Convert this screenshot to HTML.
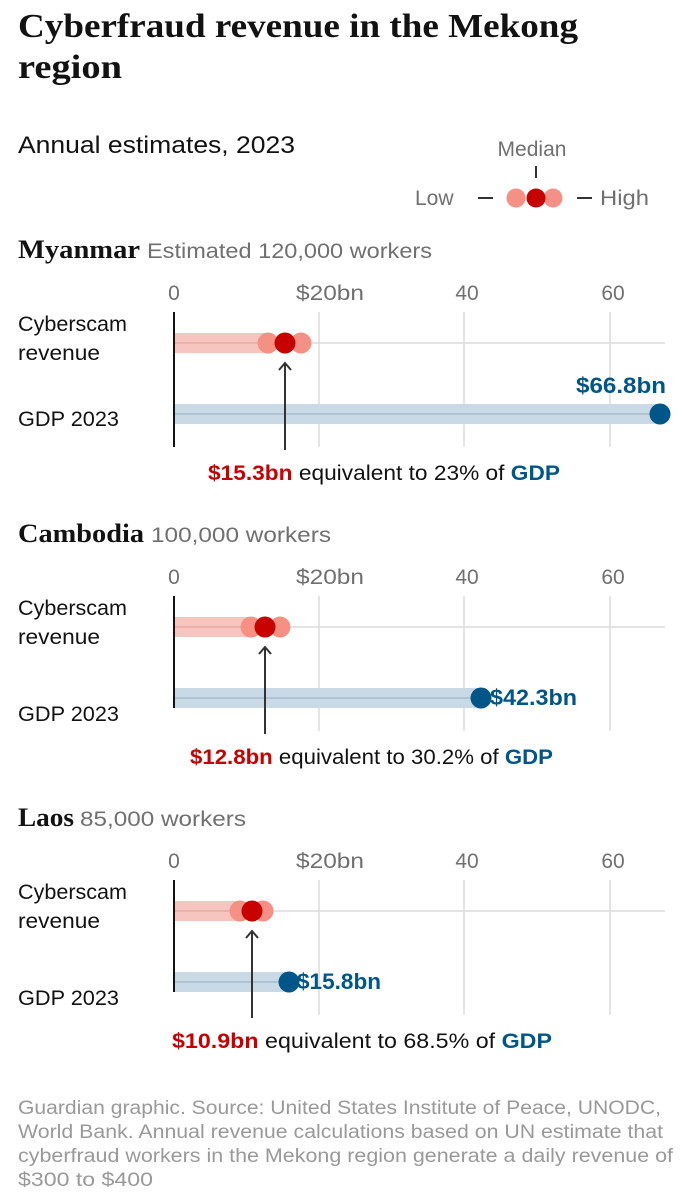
<!DOCTYPE html>
<html><head><meta charset="utf-8"><style>
html,body{margin:0;padding:0;background:#fff;}
svg{display:block;}
text{font-family:"Liberation Sans",sans-serif;}
.t{font-family:"Liberation Serif",serif;font-weight:bold;}
</style></head><body>
<svg width="690" height="1199" viewBox="0 0 690 1199" xmlns="http://www.w3.org/2000/svg">
<text class="t" x="18" y="37" font-size="34" fill="#121212" textLength="560" lengthAdjust="spacingAndGlyphs">Cyberfraud revenue in the Mekong</text>
<text class="t" x="18" y="78" font-size="34" fill="#121212" textLength="104" lengthAdjust="spacingAndGlyphs">region</text>
<text x="18" y="153" font-size="24" fill="#121212" textLength="277" lengthAdjust="spacingAndGlyphs">Annual estimates, 2023</text>
<!-- legend -->
<text x="532" y="156" font-size="21" fill="#707070" text-anchor="middle">Median</text>
<line x1="536" y1="166" x2="536" y2="178" stroke="#333" stroke-width="2"/>
<text x="415" y="205" font-size="21" fill="#707070">Low</text>
<line x1="478" y1="198" x2="493" y2="198" stroke="#333" stroke-width="2"/>
<circle cx="516" cy="198" r="9.5" fill="#f59184"/>
<circle cx="553" cy="198" r="9.5" fill="#f59184"/>
<circle cx="536" cy="198" r="9.5" fill="#c70000"/>
<line x1="577" y1="198" x2="592" y2="198" stroke="#333" stroke-width="2"/>
<text x="600" y="205" font-size="21" fill="#707070" textLength="49" lengthAdjust="spacingAndGlyphs">High</text>

<text class="t" x="18" y="258" font-size="26" fill="#121212" textLength="122" lengthAdjust="spacingAndGlyphs">Myanmar</text>
<text x="147" y="258" font-size="21" fill="#707070" textLength="285" lengthAdjust="spacingAndGlyphs">Estimated 120,000 workers</text>
<text class="t" x="18" y="542" font-size="26" fill="#121212" textLength="126" lengthAdjust="spacingAndGlyphs">Cambodia</text>
<text x="151" y="542" font-size="21" fill="#707070" textLength="180" lengthAdjust="spacingAndGlyphs">100,000 workers</text>
<text class="t" x="18" y="826" font-size="26" fill="#121212" textLength="56" lengthAdjust="spacingAndGlyphs">Laos</text>
<text x="80" y="826" font-size="21" fill="#707070" textLength="166" lengthAdjust="spacingAndGlyphs">85,000 workers</text>

<g transform="translate(0,0)">
<text x="174" y="300" font-size="21" fill="#707070" text-anchor="middle">0</text>
<text x="330" y="300" font-size="21" fill="#707070" text-anchor="middle" textLength="68" lengthAdjust="spacingAndGlyphs">$20bn</text>
<text x="467" y="300" font-size="21" fill="#707070" text-anchor="middle">40</text>
<text x="613" y="300" font-size="21" fill="#707070" text-anchor="middle">60</text>
<line x1="319" y1="312" x2="319" y2="447" stroke="#dcdcdc" stroke-width="1.5"/>
<line x1="464" y1="312" x2="464" y2="447" stroke="#dcdcdc" stroke-width="1.5"/>
<line x1="610" y1="312" x2="610" y2="447" stroke="#dcdcdc" stroke-width="1.5"/>
<line x1="174" y1="343" x2="665" y2="343" stroke="#dcdcdc" stroke-width="1.5"/>
<text x="18" y="331" font-size="21" fill="#121212" textLength="109" lengthAdjust="spacingAndGlyphs">Cyberscam</text>
<text x="18" y="360" font-size="21" fill="#121212" textLength="82" lengthAdjust="spacingAndGlyphs">revenue</text>
<text x="18" y="426" font-size="21" fill="#121212" textLength="101" lengthAdjust="spacingAndGlyphs">GDP 2023</text>
<rect x="174" y="333" width="94" height="20" fill="#f7c5c0"/>
<line x1="174" y1="343" x2="268" y2="343" stroke="#e8a8a2" stroke-width="1.5"/>
<rect x="174" y="404" width="486" height="20" fill="#c9dae6"/>
<line x1="174" y1="414" x2="660" y2="414" stroke="#a6bccc" stroke-width="1.5"/>
<circle cx="268" cy="343" r="10.5" fill="#f59184"/>
<circle cx="301" cy="343" r="10.5" fill="#f59184"/>
<circle cx="285" cy="343" r="10.5" fill="#c70000"/>
<circle cx="660" cy="414" r="10.5" fill="#005689"/>
<text x="666" y="393" font-size="22" font-weight="bold" fill="#005689" text-anchor="end" textLength="90" lengthAdjust="spacingAndGlyphs">$66.8bn</text>
<line x1="174" y1="312" x2="174" y2="447" stroke="#121212" stroke-width="2"/>
<line x1="285" y1="450" x2="285" y2="363" stroke="#333" stroke-width="2"/>
<polyline points="279,370 285,363 291,370" fill="none" stroke="#333" stroke-width="2"/>
<text x="208" y="480" font-size="21" fill="#121212" textLength="352" lengthAdjust="spacingAndGlyphs"><tspan font-weight="bold" fill="#c70000">$15.3bn</tspan> equivalent to 23% of <tspan font-weight="bold" fill="#005689">GDP</tspan></text>
</g>

<g transform="translate(0,284)">
<text x="174" y="300" font-size="21" fill="#707070" text-anchor="middle">0</text>
<text x="330" y="300" font-size="21" fill="#707070" text-anchor="middle" textLength="68" lengthAdjust="spacingAndGlyphs">$20bn</text>
<text x="467" y="300" font-size="21" fill="#707070" text-anchor="middle">40</text>
<text x="613" y="300" font-size="21" fill="#707070" text-anchor="middle">60</text>
<line x1="319" y1="312" x2="319" y2="447" stroke="#dcdcdc" stroke-width="1.5"/>
<line x1="464" y1="312" x2="464" y2="447" stroke="#dcdcdc" stroke-width="1.5"/>
<line x1="610" y1="312" x2="610" y2="447" stroke="#dcdcdc" stroke-width="1.5"/>
<line x1="174" y1="343" x2="665" y2="343" stroke="#dcdcdc" stroke-width="1.5"/>
<text x="18" y="331" font-size="21" fill="#121212" textLength="109" lengthAdjust="spacingAndGlyphs">Cyberscam</text>
<text x="18" y="360" font-size="21" fill="#121212" textLength="82" lengthAdjust="spacingAndGlyphs">revenue</text>
<text x="18" y="437" font-size="21" fill="#121212" textLength="101" lengthAdjust="spacingAndGlyphs">GDP 2023</text>
<rect x="174" y="333" width="76" height="20" fill="#f7c5c0"/>
<line x1="174" y1="343" x2="250" y2="343" stroke="#e8a8a2" stroke-width="1.5"/>
<rect x="174" y="404" width="307" height="20" fill="#c9dae6"/>
<line x1="174" y1="414" x2="481" y2="414" stroke="#a6bccc" stroke-width="1.5"/>
<circle cx="251" cy="343" r="10.5" fill="#f59184"/>
<circle cx="280" cy="343" r="10.5" fill="#f59184"/>
<circle cx="265" cy="343" r="10.5" fill="#c70000"/>
<circle cx="481" cy="414" r="10.5" fill="#005689"/>
<text x="490" y="421" font-size="22" font-weight="bold" fill="#005689" textLength="87" lengthAdjust="spacingAndGlyphs">$42.3bn</text>
<line x1="174" y1="312" x2="174" y2="424" stroke="#121212" stroke-width="2"/>
<line x1="265" y1="450" x2="265" y2="363" stroke="#333" stroke-width="2"/>
<polyline points="259,370 265,363 271,370" fill="none" stroke="#333" stroke-width="2"/>
<text x="190" y="480" font-size="21" fill="#121212" textLength="363" lengthAdjust="spacingAndGlyphs"><tspan font-weight="bold" fill="#c70000">$12.8bn</tspan> equivalent to 30.2% of <tspan font-weight="bold" fill="#005689">GDP</tspan></text>
</g>

<g transform="translate(0,568)">
<text x="174" y="300" font-size="21" fill="#707070" text-anchor="middle">0</text>
<text x="330" y="300" font-size="21" fill="#707070" text-anchor="middle" textLength="68" lengthAdjust="spacingAndGlyphs">$20bn</text>
<text x="467" y="300" font-size="21" fill="#707070" text-anchor="middle">40</text>
<text x="613" y="300" font-size="21" fill="#707070" text-anchor="middle">60</text>
<line x1="319" y1="312" x2="319" y2="447" stroke="#dcdcdc" stroke-width="1.5"/>
<line x1="464" y1="312" x2="464" y2="447" stroke="#dcdcdc" stroke-width="1.5"/>
<line x1="610" y1="312" x2="610" y2="447" stroke="#dcdcdc" stroke-width="1.5"/>
<line x1="174" y1="343" x2="665" y2="343" stroke="#dcdcdc" stroke-width="1.5"/>
<text x="18" y="331" font-size="21" fill="#121212" textLength="109" lengthAdjust="spacingAndGlyphs">Cyberscam</text>
<text x="18" y="360" font-size="21" fill="#121212" textLength="82" lengthAdjust="spacingAndGlyphs">revenue</text>
<text x="18" y="437" font-size="21" fill="#121212" textLength="101" lengthAdjust="spacingAndGlyphs">GDP 2023</text>
<rect x="174" y="333" width="66" height="20" fill="#f7c5c0"/>
<line x1="174" y1="343" x2="240" y2="343" stroke="#e8a8a2" stroke-width="1.5"/>
<rect x="174" y="404" width="115" height="20" fill="#c9dae6"/>
<line x1="174" y1="414" x2="289" y2="414" stroke="#a6bccc" stroke-width="1.5"/>
<circle cx="240" cy="343" r="10.5" fill="#f59184"/>
<circle cx="263" cy="343" r="10.5" fill="#f59184"/>
<circle cx="252" cy="343" r="10.5" fill="#c70000"/>
<circle cx="289" cy="414" r="10.5" fill="#005689"/>
<text x="297" y="421" font-size="22" font-weight="bold" fill="#005689" textLength="84" lengthAdjust="spacingAndGlyphs">$15.8bn</text>
<line x1="174" y1="312" x2="174" y2="424" stroke="#121212" stroke-width="2"/>
<line x1="252" y1="450" x2="252" y2="363" stroke="#333" stroke-width="2"/>
<polyline points="246,370 252,363 258,370" fill="none" stroke="#333" stroke-width="2"/>
<text x="172" y="480" font-size="21" fill="#121212" textLength="380" lengthAdjust="spacingAndGlyphs"><tspan font-weight="bold" fill="#c70000">$10.9bn</tspan> equivalent to 68.5% of <tspan font-weight="bold" fill="#005689">GDP</tspan></text>
</g>

<g font-size="19" fill="#999">
<text x="18" y="1114" textLength="643" lengthAdjust="spacingAndGlyphs">Guardian graphic. Source: United States Institute of Peace, UNODC,</text>
<text x="18" y="1138" textLength="645" lengthAdjust="spacingAndGlyphs">World Bank. Annual revenue calculations based on UN estimate that</text>
<text x="18" y="1162" textLength="655" lengthAdjust="spacingAndGlyphs">cyberfraud workers in the Mekong region generate a daily revenue of</text>
<text x="18" y="1186" textLength="135" lengthAdjust="spacingAndGlyphs">$300 to $400</text>
</g>
</svg>
</body></html>
